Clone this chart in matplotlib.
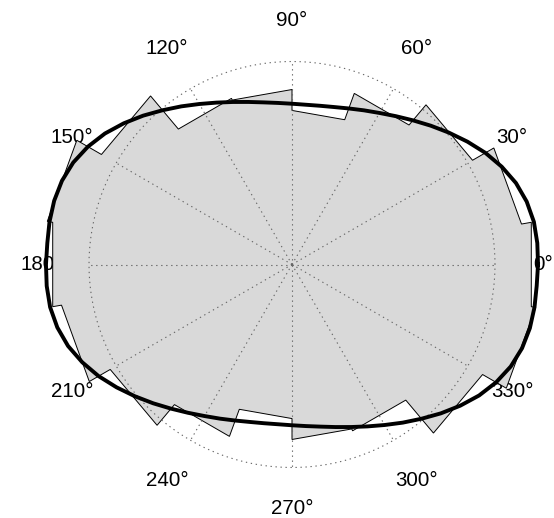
import numpy as np
import matplotlib.pyplot as plt

plt.rcParams['font.family'] = ['Liberation Sans', 'DejaVu Sans']

# histogram bins: centre angle (deg) and radius (grid circle = 1)
bin_centers = [0, 20, 40, 60, 80, 100, 120, 140, 160,
               180, 200, 220, 240, 260, 280, 300, 320, 340]
bin_radius = [1.197, 1.148, 1.027, 0.897, 0.759, 0.862, 0.871, 1.084, 1.224,
              1.197, 1.153, 1.034, 0.901, 0.759, 0.862, 0.872, 1.084, 1.219]
bin_width = 20

# fitted curve, radius read every 5 degrees (0..355, then closed)
curve_angles = list(range(0, 361, 5))
half_turn = [1.212, 1.213, 1.210, 1.197, 1.174, 1.140, 1.100, 1.055, 1.010,
             0.967, 0.927, 0.892, 0.862, 0.838, 0.818, 0.803, 0.794, 0.790,
             0.792, 0.799, 0.811, 0.829, 0.852, 0.880, 0.913, 0.951, 0.992,
             1.037, 1.082, 1.125, 1.161, 1.189, 1.206, 1.213, 1.213, 1.210]
curve_radius = half_turn + half_turn + [1.212]

tick_angles = list(range(0, 360, 30))
tick_labels = [f'{a}°' for a in tick_angles]

fig = plt.figure(figsize=(5.54, 5.18), dpi=100)
ax = fig.add_axes([0, 0, 1, 1])
ax.set_xlim(-1.4384, 1.2906)
ax.set_ylim(-1.2488, 1.3030)
ax.set_aspect('equal')
ax.axis('off')

# labels sit under the data, like the original
for a, lab in zip(tick_angles, tick_labels):
    t = np.deg2rad(a)
    rl = 1.2 + 0.06 * abs(np.cos(t))
    if a in (0, 180):
        rl = 1.235
    ax.text(rl * np.cos(t), rl * np.sin(t), lab, ha='center', va='center',
            fontsize=14.8, zorder=1)

# stepped polygon of the histogram
px, py = [], []
for c, r in zip(bin_centers, bin_radius):
    for a in (c - bin_width / 2, c + bin_width / 2):
        t = np.deg2rad(a)
        px.append(r * np.cos(t))
        py.append(r * np.sin(t))
ax.fill(px, py, facecolor='#d9d9d9', edgecolor='black', linewidth=0.7, zorder=2)

# dotted grid
grid_style = dict(color='0.4', linewidth=0.8, linestyle=(0, (1.2, 3.3)), zorder=3)
th = np.linspace(0, 2 * np.pi, 361)
ax.plot(np.cos(th), np.sin(th), **grid_style)
for a in tick_angles:
    t = np.deg2rad(a)
    ax.plot([0, np.cos(t)], [0, np.sin(t)], **grid_style)

# fitted curve
ca = np.deg2rad(curve_angles)
cr = np.array(curve_radius)
ax.plot(cr * np.cos(ca), cr * np.sin(ca), color='black', linewidth=2.8,
        solid_joinstyle='round', zorder=4)

fig.savefig('out.png', dpi=100)
